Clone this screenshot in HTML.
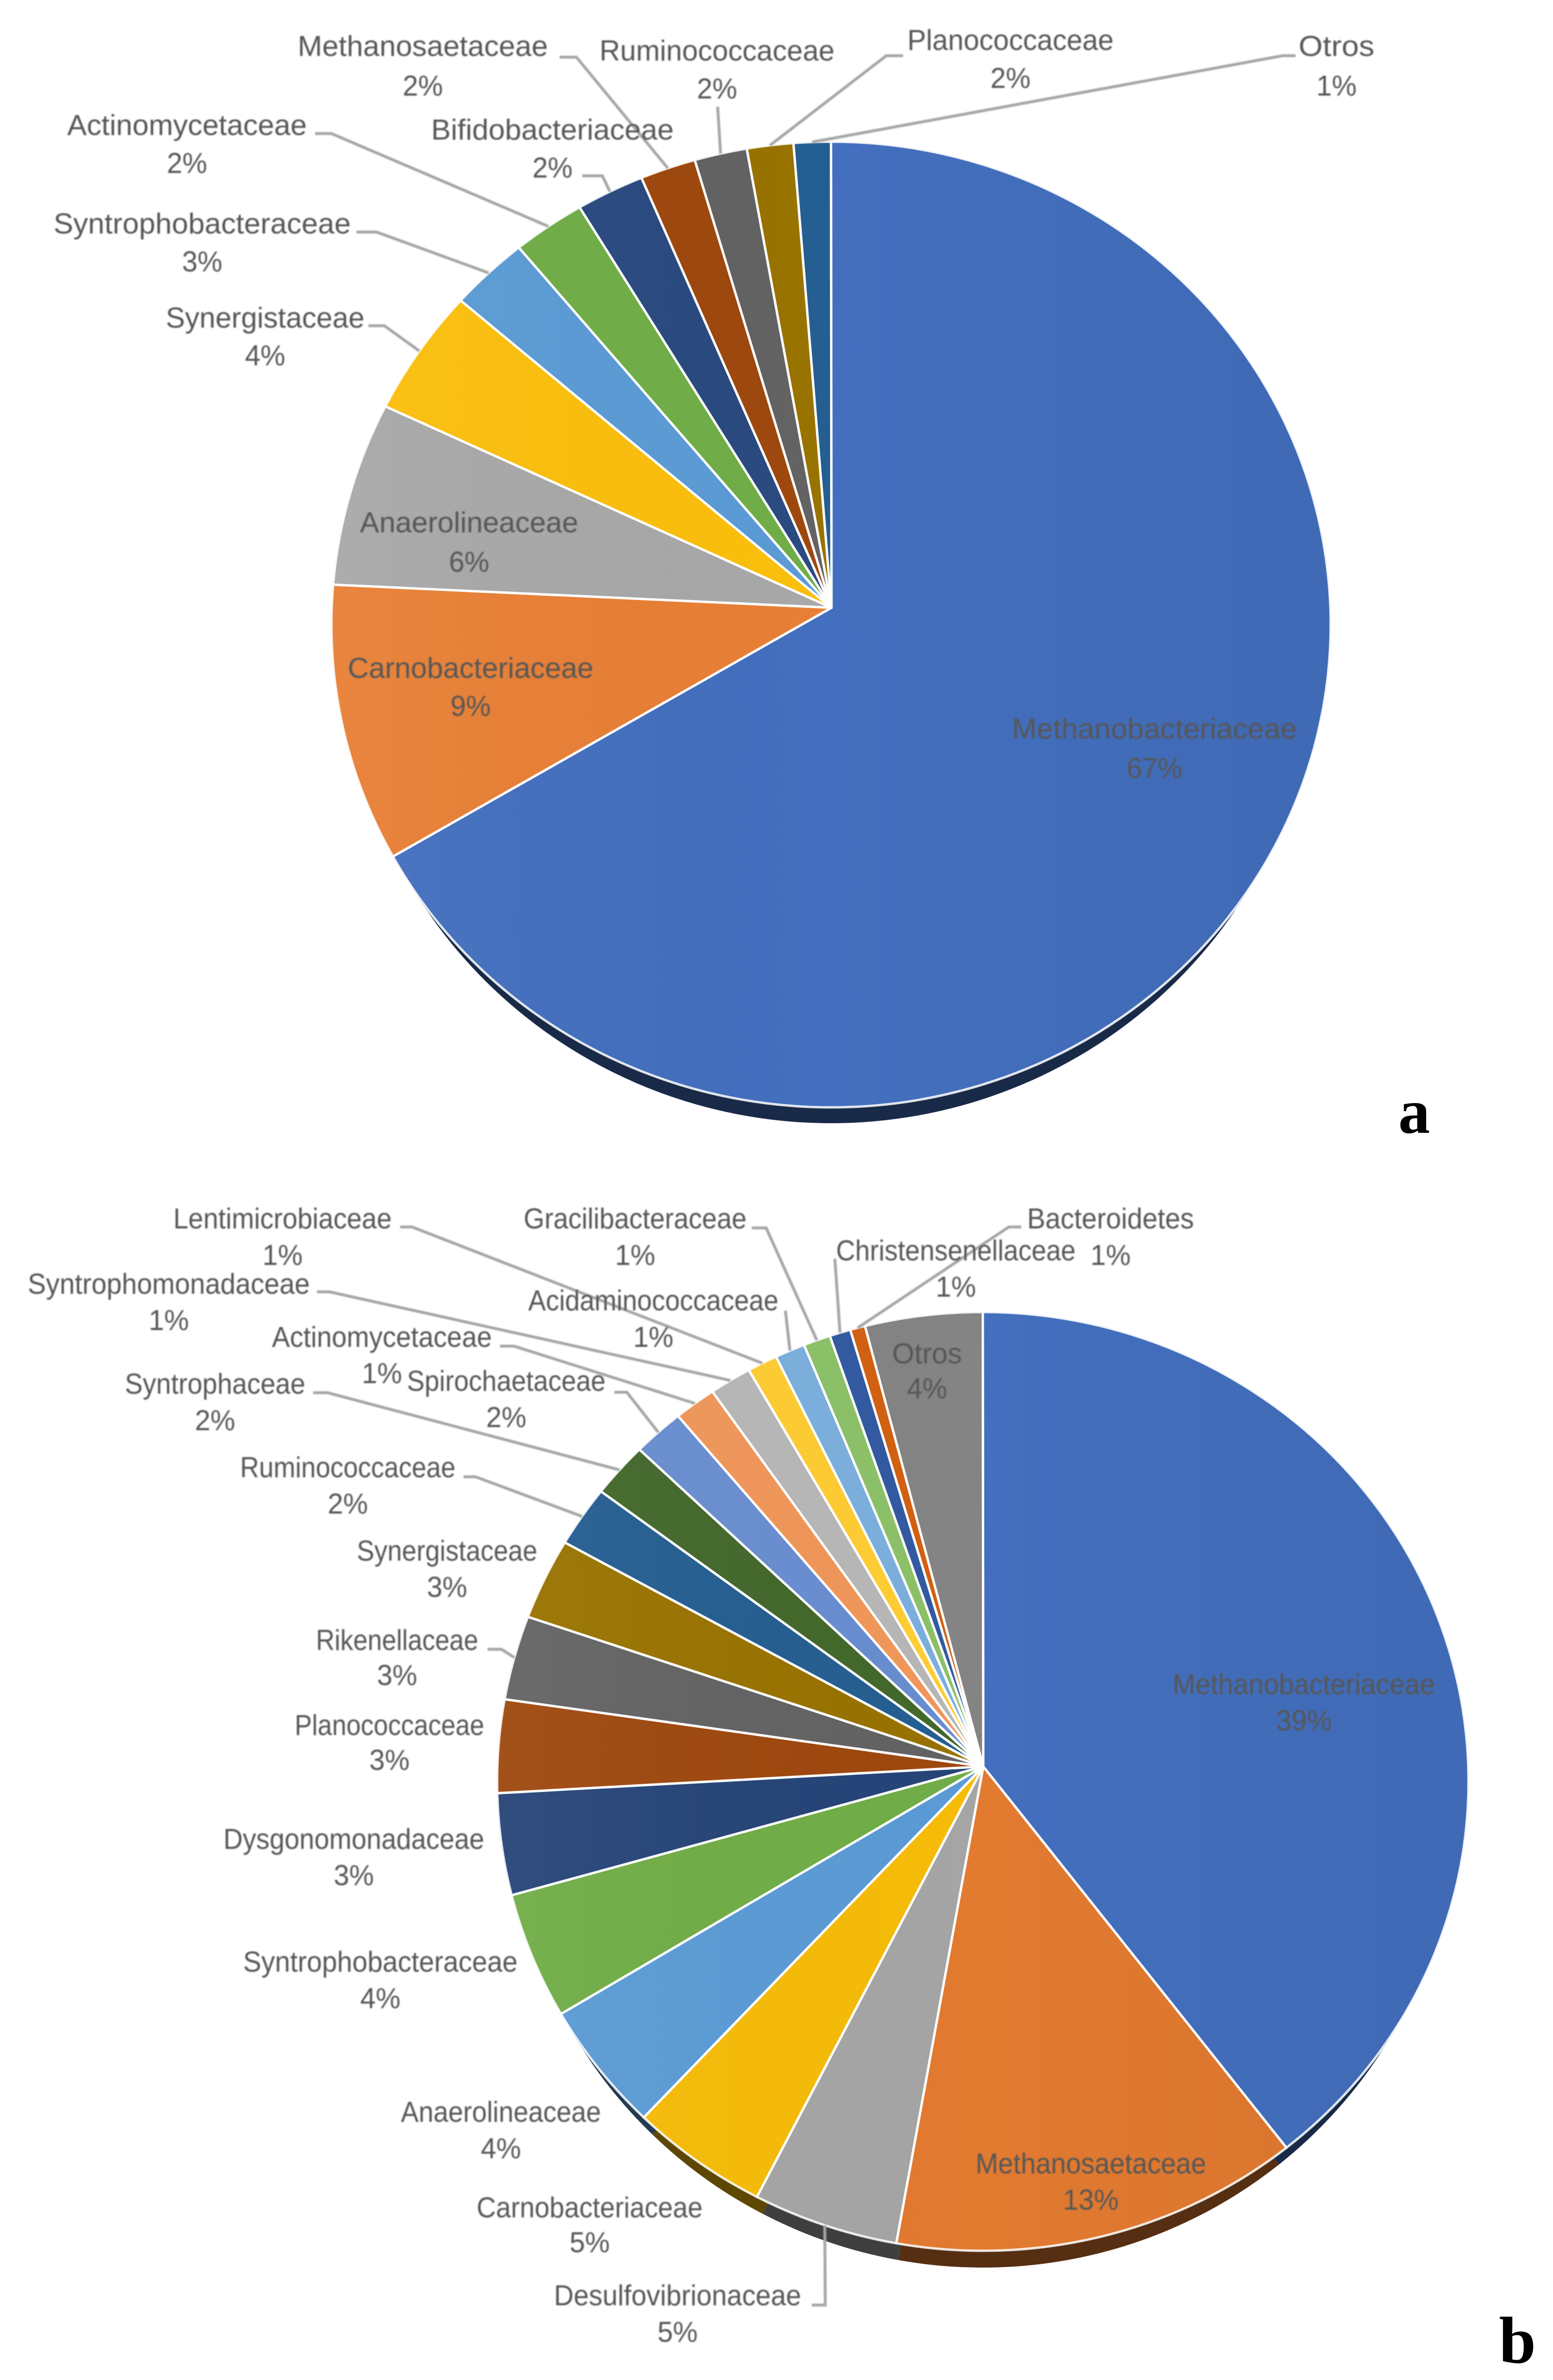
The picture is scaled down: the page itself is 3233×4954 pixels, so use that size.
<!DOCTYPE html>
<html lang="es">
<head>
<meta charset="utf-8">
<title>Bacterial families pie charts</title>
<style>
html,body{margin:0;padding:0;background:#fff;}
svg{display:block;}
.lbl{font-family:"Liberation Sans",sans-serif;font-size:60px;fill:#565656;text-anchor:middle;}
.letter{font-family:"Liberation Serif",serif;font-weight:bold;fill:#000;text-anchor:middle;}
</style>
</head>
<body>
<svg id="figure" xmlns="http://www.w3.org/2000/svg" width="3233" height="4954" viewBox="0 0 3233 4954">
  <defs>
    <linearGradient id="shade" x1="0" y1="0" x2="1" y2="0">
      <stop offset="0" stop-color="#fff" stop-opacity="0.05"/>
      <stop offset="0.5" stop-color="#000" stop-opacity="0"/>
      <stop offset="1" stop-color="#000" stop-opacity="0.05"/>
    </linearGradient>
    <filter id="soft" x="-2%" y="-5%" width="104%" height="110%"><feGaussianBlur stdDeviation="1.2"/></filter>
  </defs>
  <g id="chart-a"></g>
  <g id="chart-b"></g>
  <text class="letter" x="2944" y="2358" font-size="132">a</text>
  <text class="letter" x="3159" y="4918" font-size="138">b</text>
</svg>
<script>
// ---- Chart a data ----
const categoriesA = ["Methanobacteriaceae","Carnobacteriaceae","Anaerolineaceae","Synergistaceae","Syntrophobacteraceae","Actinomycetaceae","Bifidobacteriaceae","Methanosaetaceae","Ruminococcaceae","Planococcaceae","Otros"];
const valuesA = [67.07,9.3,6.15,4.25,2.55,2.35,2.2,1.8,1.7,1.5,1.2];
const printedA = ["67%","9%","6%","4%","3%","2%","2%","2%","2%","2%","1%"];

// ---- Chart b data ----
const categoriesB = ["Methanobacteriaceae","Methanosaetaceae","Desulfovibrionaceae","Carnobacteriaceae","Anaerolineaceae","Syntrophobacteraceae","Dysgonomonadaceae","Planococcaceae","Rikenellaceae","Synergistaceae","Ruminococcaceae","Syntrophaceae","Spirochaetaceae","Actinomycetaceae","Syntrophomonadaceae","Lentimicrobiaceae","Acidaminococcaceae","Gracilibacteraceae","Christensenellaceae","Bacteroidetes","Otros"];
const valuesB = [39.25,13.6,4.85,4.6,4.45,4.35,3.5,3.2,2.9,2.8,2.1,1.9,1.7,1.4,1.4,1,1,0.9,0.7,0.5,3.9];
const printedB = ["39%","13%","5%","5%","4%","4%","3%","3%","3%","3%","2%","2%","2%","1%","1%","1%","1%","1%","1%","1%","4%"];

// ---- Styling and layout (separate from the data) ----
const paletteA = ["#436fbe","#e87f35","#a8a8a8","#fbbf0c","#5b9bd5","#70ad47","#2a4a80","#9e480e","#636363","#997300","#255e91"];
const paletteB = ["#436fbe","#e27a30","#a5a5a5","#f6bc08","#5b9bd5","#70ad47","#264478","#9e480e","#636363","#997300","#255e91","#43682b","#698ed0","#f1975a","#b7b7b7","#ffcd33","#7cafdd","#8cc168","#335aa1","#d26012","#848484"];
const KS = 3.157;
const TEXT_DX = 1;
const TEXT_DY = 22;
// name left, name right, name line centre, percent line centre (in 1/KS px)
const labelLayoutA = [[667,855,480,506],[229,391,440,465],[237,381,344,370],[109,240,209,234],[35,231,147,172],[44,202,82,107],[284,444,85,110],[196,361,30,56],[395,550,33,58],[598,734,26,51],[856,906,30,56]];
const labelLayoutB = [[773,946,1110,1134],[643,795,1426,1450],[365,528,1513,1537],[314,463,1455,1478],[264,396,1392,1416],[160,341,1293,1317],[147,319,1212,1236],[194,319,1137,1160],[208,315,1081,1104],[235,354,1022,1046],[158,300,967,991],[82,201,912,936],[268,399,910,934],[179,324,881,905],[18,204,846,870],[114,258,803,827],[348,513,857,881],[345,492,803,827],[551,709,824,848],[677,787,803,827],[588,634,892,915]];
// leader-line start/elbow points; the tip is taken from the slice's mid angle
const leaderLayoutA = [null,null,null,[[767,678],[800,678]],[[742,483],[784,483]],[[656,278],[690,278]],[[1212,366],[1254,366]],[[1165,119],[1200,119]],[[1494,222]],[[1880,116],[1845,116]],[[2697,116],[2670,116]]];
const leaderLayoutB = [null,null,[[1690,4798],[1718,4798]],null,null,null,null,null,[[1015,3433],[1044,3433]],null,[[965,3074],[990,3074]],[[652,2899],[682,2899]],[[1279,2898],[1305,2898]],[[1041,2802],[1070,2802]],[[660,2689],[686,2689]],[[833,2554],[858,2554]],[[1635,2728]],[[1565,2556],[1595,2556]],[[1738,2620]],[[2126,2554],[2100,2554]],null];
const geomA = {ax:1731, ay:1265, cx:1730, cy:1300, rx:1040, ry:1005, rim:33, rimInset:25};
const geomB = {ax:2047, ay:3677, cx:2046, cy:3708, rx:1011, ry:977, rim:35, rimInset:25};

const NS = "http://www.w3.org/2000/svg";

function scaleAngle(value, total) { return value / total * Math.PI * 2; }
function outlineX(g, t) { return g.cx + g.rx * Math.sin(t); }
function outlineY(g, t) { return g.cy - g.ry * Math.cos(t); }
function darken(hex, f) {
  const n = parseInt(hex.slice(1), 16);
  const r = Math.round((n >> 16 & 255) * f), gg = Math.round((n >> 8 & 255) * f), b = Math.round((n & 255) * f);
  return "rgb(" + r + "," + gg + "," + b + ")";
}
function slug(s) { return s.toLowerCase().replace(/[^a-z0-9]+/g, "-"); }
function wedgePath(g, t0, t1, dy, dr) {
  const rx = g.rx - dr, cy = g.cy + dy;
  const x0 = g.cx + rx * Math.sin(t0), y0 = cy - g.ry * Math.cos(t0);
  const x1 = g.cx + rx * Math.sin(t1), y1 = cy - g.ry * Math.cos(t1);
  const large = (t1 - t0) > Math.PI ? 1 : 0;
  return "M" + g.ax + " " + (g.ay + dy) + "L" + x0.toFixed(1) + " " + y0.toFixed(1) +
         "A" + rx + " " + g.ry + " 0 " + large + " 1 " + x1.toFixed(1) + " " + y1.toFixed(1) + "Z";
}

function drawPie(root, prefix, g, cats, vals, printed, pal, labels, leaders) {
  const total = vals.reduce(function (a, b) { return a + b; }, 0);
  const spans = [];
  let acc = 0;
  vals.forEach(function (v) {
    const t0 = scaleAngle(acc, total);
    acc += v;
    spans.push([t0, scaleAngle(acc, total)]);
  });

  // dark 3-D rim
  spans.forEach(function (s, i) {
    const rim = document.createElementNS(NS, "path");
    rim.setAttribute("d", wedgePath(g, s[0], s[1], g.rim, g.rimInset));
    rim.setAttribute("fill", darken(pal[i], 0.38));
    
    
    root.appendChild(rim);
  });

  // top-face slices
  spans.forEach(function (s, i) {
    const p = document.createElementNS(NS, "path");
    p.setAttribute("d", wedgePath(g, s[0], s[1], 0, 0));
    p.setAttribute("fill", pal[i]);
    
    
    root.appendChild(p);
  });

  // soft horizontal shading across the disc
  const sh = document.createElementNS(NS, "ellipse");
  sh.setAttribute("cx", g.cx);
  sh.setAttribute("cy", g.cy);
  sh.setAttribute("rx", g.rx - 2);
  sh.setAttribute("ry", g.ry - 2);
  sh.setAttribute("fill", "url(#shade)");
  sh.setAttribute("pointer-events", "none");
  
  
  root.appendChild(sh);

  // white slice borders, on top of all fills so they merge at the apex
  spans.forEach(function (s, i) {
    const b = document.createElementNS(NS, "path");
    b.setAttribute("d", wedgePath(g, s[0], s[1], 0, 0));
    b.setAttribute("fill", "none");
    b.setAttribute("stroke", "#fff");
    b.setAttribute("stroke-opacity", "0.85");
    b.setAttribute("stroke-width", "5");
    b.setAttribute("stroke-linejoin", "round");
    b.setAttribute("pointer-events", "none");
    
    
    root.appendChild(b);
  });

  // leader lines and data labels
  const tg = document.createElementNS(NS, "g");
  tg.setAttribute("filter", "url(#soft)");
  
  
  root.appendChild(tg);

  leaders.forEach(function (pts, i) {
    if (!pts) return;
    const mid = (spans[i][0] + spans[i][1]) / 2;
    const tipX = outlineX(g, mid), tipY = outlineY(g, mid);
    const coords = pts.map(function (q) { return q[0] + "," + q[1]; });
    coords.push(tipX.toFixed(1) + "," + tipY.toFixed(1));
    const line = document.createElementNS(NS, "polyline");
    line.setAttribute("points", coords.join(" "));
    line.setAttribute("fill", "none");
    line.setAttribute("stroke", "#a6a6a6");
    line.setAttribute("stroke-width", "6");
    
    
    tg.appendChild(line);
  });

  cats.forEach(function (name, i) {
    const L = labels[i];
    const mx = (L[0] + L[1]) / 2 * KS + TEXT_DX;
    const t1 = document.createElementNS(NS, "text");
    t1.setAttribute("class", "lbl");
    t1.setAttribute("x", mx.toFixed(1));
    t1.setAttribute("y", (L[2] * KS + TEXT_DY).toFixed(1));
    t1.setAttribute("textLength", ((L[1] - L[0]) * KS).toFixed(1));
    t1.setAttribute("lengthAdjust", "spacingAndGlyphs");
    t1.textContent = name;
    
    
    tg.appendChild(t1);
    const t2 = document.createElementNS(NS, "text");
    t2.setAttribute("class", "lbl");
    t2.setAttribute("x", mx.toFixed(1));
    t2.setAttribute("y", (L[3] * KS + TEXT_DY).toFixed(1));
    const em = (printed[i].length - 1) * 0.556 + 0.889;
    t2.setAttribute("textLength", (em * 58).toFixed(1));
    t2.setAttribute("lengthAdjust", "spacingAndGlyphs");
    t2.textContent = printed[i];
    
    
    tg.appendChild(t2);
  });
}

drawPie(document.getElementById("chart-a"), "a", geomA, categoriesA, valuesA, printedA, paletteA, labelLayoutA, leaderLayoutA);
drawPie(document.getElementById("chart-b"), "b", geomB, categoriesB, valuesB, printedB, paletteB, labelLayoutB, leaderLayoutB);
</script>
</body>
</html>
